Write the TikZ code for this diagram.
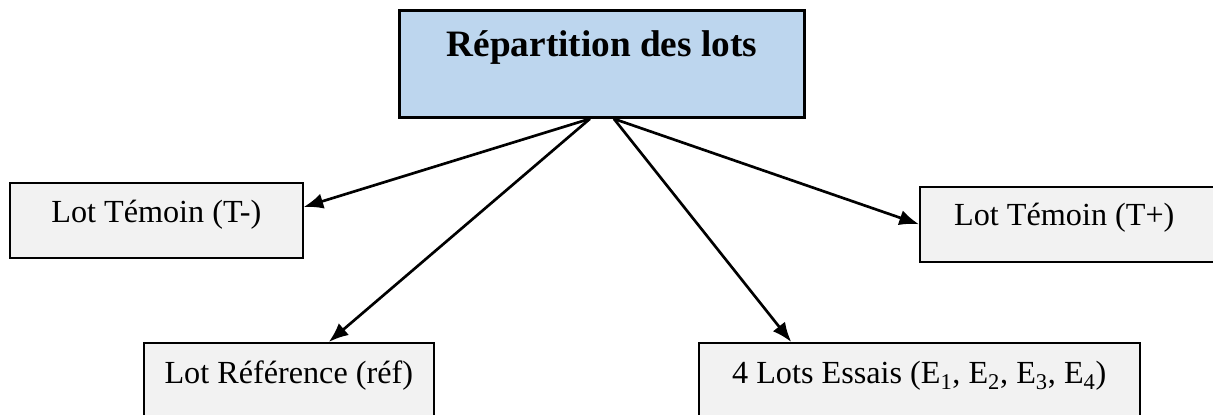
\documentclass[tikz,border=0pt]{standalone}
\usepackage{fontspec}
\setmainfont{Liberation Serif}
\usepackage{tikz}
\usetikzlibrary{arrows.meta}
\definecolor{repblue}{RGB}{189,214,238}
\definecolor{lotgray}{RGB}{242,242,242}

\begin{document}
\begin{tikzpicture}[
	lot/.style={rectangle, draw=black, line width=1.1pt, fill=lotgray, inner sep=0pt, text height=1cm, anchor=north west, font=\fontsize{22.9}{27}\selectfont},
	fleche/.style={line width=1.9pt, -{Latex[length=14pt,width=11pt]}}
]

\useasboundingbox (0,0) rectangle (30.325,10.35);
\clip (0,0) rectangle (30.325,10.35);

\node at (9.95,10.125) [rectangle, draw=black, line width=2pt, fill=repblue, inner sep=0pt, minimum width=10.125cm, text height=1.15cm, text depth=1.525cm, anchor=north west, font=\fontsize{26.5}{31}\selectfont\bfseries] (rep) {Répartition des lots};

\node at (0.225,5.8) [lot, minimum width=7.325cm, text depth=0.875cm] (tmoins) {Lot Témoin (T-)};
\node at (22.975,5.7) [lot, minimum width=7.8cm, text height=0.975cm, text depth=0.9cm] (tplus) {Lot Témoin (T+)\hspace*{0.575cm}};

\node at (3.575,1.8) [lot, minimum width=7.25cm, text height=1.025cm, text depth=1.5cm] (ref) {Lot Référence (réf)};
\node at (17.45,1.8) [lot, minimum width=11.025cm, text height=1.025cm, text depth=1.5cm] (essais) {4 Lots Essais (E\textsubscript{1}, E\textsubscript{2}, E\textsubscript{3}, E\textsubscript{4})};

\draw [fleche] ([xshift=-0.3cm]rep.south) -- ([yshift=0.33cm]tmoins.east) ;
\draw [fleche] ([xshift=-0.3cm]rep.south) -- ([xshift=1cm]ref.north) ;
\draw [fleche] ([xshift=0.3cm]rep.south) -- (tplus.west) ;
\draw [fleche] ([xshift=0.3cm]rep.south) -- ([xshift=-3.2cm]essais.north) ;

\end{tikzpicture}
\end{document}
